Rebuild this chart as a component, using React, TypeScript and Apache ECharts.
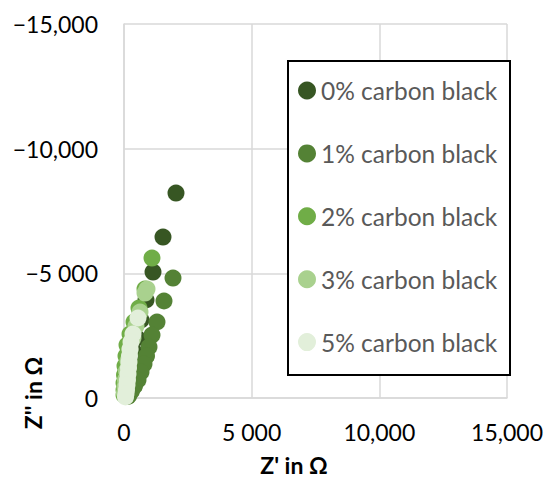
import React, { useEffect, useRef } from "react";
import * as echarts from "echarts";

const cb0: number[][] = [
  [2036, -8220], [1527, -6456], [1136, -5052], [862, -3930], [666, -3128],
  [509, -2406], [392, -1845], [313, -1404], [235, -1043], [176, -722],
  [137, -481], [98, -281], [59, -120],
];
const cb1: number[][] = [
  [1919, -4812], [1566, -3890], [1292, -3048], [1096, -2526], [979, -2045],
  [881, -1684], [783, -1363], [666, -1043], [548, -722], [411, -481],
  [294, -281], [196, -120], [157, -60],
];
const cb2: number[][] = [
  [1096, -5614], [822, -4370], [587, -3610], [392, -3048], [235, -2566],
  [117, -2125], [78, -1684], [39, -1283], [20, -922], [0, -601],
  [0, -321], [0, -120],
];
const cb3: number[][] = [
  [901, -4370], [822, -4210], [627, -3449], [470, -2887], [352, -2406],
  [235, -1925], [157, -1484], [98, -1083], [59, -722], [39, -441],
  [20, -200],
];
const cb5: number[][] = [
  [548, -3208], [352, -2566], [274, -2245], [235, -1965], [215, -1684],
  [196, -1443], [176, -1203], [157, -962], [137, -722], [117, -521],
  [98, -321], [78, -160], [59, -40],
];

const seriesNames = [
  "0% carbon black",
  "1% carbon black",
  "2% carbon black",
  "3% carbon black",
  "5% carbon black",
];
const seriesColors = ["#375623", "#548235", "#70AD47", "#A9D18E", "#E2EFDA"];

const xTickLabels: Record<string, string> = {
  "0": "0",
  "5000": "5 000",
  "10000": "10,000",
  "15000": "15,000",
};
const yTickLabels: Record<string, string> = {
  "-15000": "\u221215,000",
  "-10000": "\u221210,000",
  "-5000": "\u22125 000",
  "0": "0",
};

const FONT = "Lato, 'Open Sans', sans-serif";

const App = () => {
  const chartRef = useRef<HTMLDivElement>(null);

  useEffect(() => {
    document.body.style.margin = "0";
    const chart = echarts.init(chartRef.current, null, { renderer: "svg" });

    const allData = [cb0, cb1, cb2, cb3, cb5];

    const option = {
      animation: false,
      backgroundColor: "#ffffff",
      textStyle: { fontFamily: FONT },
      grid: { left: 124, top: 24, right: 43, bottom: 83 },
      xAxis: {
        type: "value",
        min: 0,
        max: 15000,
        interval: 5000,
        axisLine: { show: true, lineStyle: { color: "#D9D9D9", width: 1.5 } },
        axisTick: { show: false },
        splitLine: { show: true, lineStyle: { color: "#D9D9D9", width: 1.5 } },
        axisLabel: {
          color: "#000000",
          fontSize: 23,
          fontFamily: FONT,
          margin: 22,
          formatter: (v: number) => xTickLabels[String(v)] ?? String(v),
        },
      },
      yAxis: {
        type: "value",
        min: -15000,
        max: 0,
        interval: 5000,
        inverse: true,
        axisLine: { show: true, lineStyle: { color: "#D9D9D9", width: 1.5 } },
        axisTick: { show: false },
        splitLine: { show: true, lineStyle: { color: "#D9D9D9", width: 1.5 } },
        axisLabel: {
          color: "#000000",
          fontSize: 23,
          fontFamily: FONT,
          margin: 26,
          formatter: (v: number) => yTickLabels[String(v)] ?? String(v),
        },
      },
      legend: {
        orient: "vertical",
        left: 298,
        top: 78,
        padding: 0,
        itemWidth: 18,
        itemHeight: 18,
        itemGap: 37.9,
        icon: "circle",
        selectedMode: false,
        data: seriesNames,
        textStyle: {
          color: "#595959",
          fontSize: 24.5,
          fontFamily: FONT,
          lineHeight: 24,
        },
      },
      graphic: [
        {
          type: "rect",
          left: 287,
          top: 60,
          shape: { width: 222, height: 314 },
          style: { fill: "#ffffff", stroke: "#000000", lineWidth: 2 },
          z: 1,
        },
        {
          type: "text",
          x: 294,
          y: 465,
          style: {
            text: "Z' in \u03A9",
            fill: "#000000",
            font: `bold 23px ${FONT}`,
            textAlign: "center",
            textVerticalAlign: "middle",
          },
        },
        {
          type: "text",
          x: 33,
          y: 393,
          rotation: Math.PI / 2,
          style: {
            text: "Z'' in \u03A9",
            fill: "#000000",
            font: `bold 23px ${FONT}`,
            textAlign: "center",
            textVerticalAlign: "middle",
          },
        },
      ],
      series: allData.map((d, i) => ({
        name: seriesNames[i],
        type: "scatter",
        data: d,
        symbol: "circle",
        symbolSize: 17,
        itemStyle: { color: seriesColors[i], opacity: 1 },
        z: 3 + i,
      })),
    };

    chart.setOption(option);

    return () => {
      chart.dispose();
    };
  }, []);

  return <div ref={chartRef} style={{ width: 550, height: 481 }} />;
};

export default App;
